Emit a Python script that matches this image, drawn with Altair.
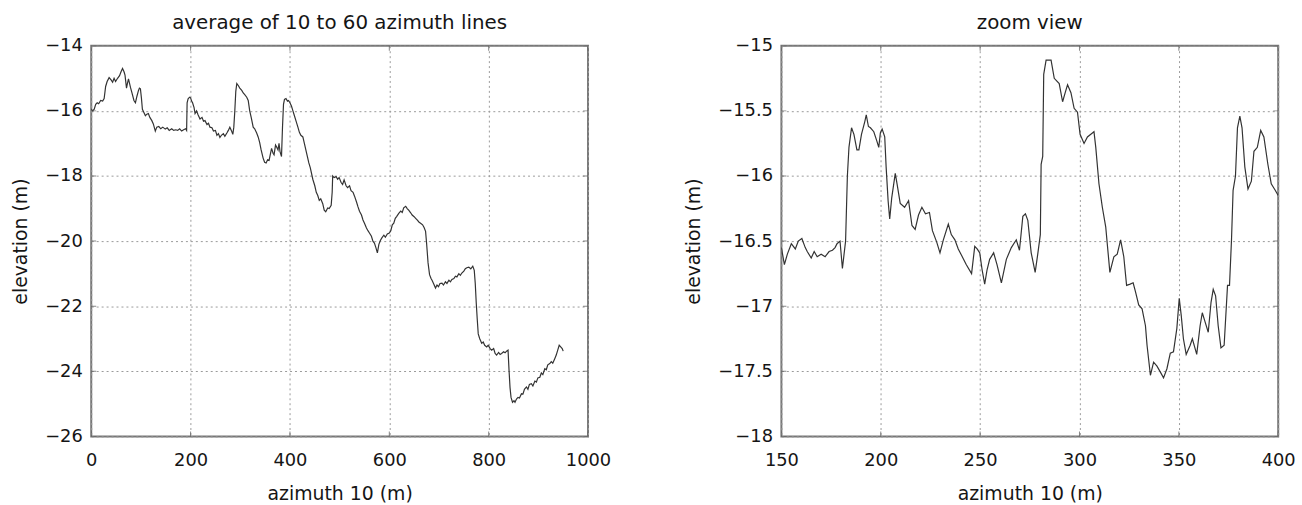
import altair as alt
import pandas as pd

# ---- full profile (left panel) ----
full_x = [0, 3, 6, 9, 12, 15, 19, 23, 26, 29, 32, 36, 40, 43, 46, 49, 53, 57, 60, 63, 66, 68, 71, 73, 75, 77, 79, 82, 86, 89,
          92, 95, 97, 99, 101, 103, 106, 109, 112, 115, 118, 122, 125, 129, 132, 136, 140, 144, 149, 153, 157, 162, 166, 170, 174, 178, 182, 186, 190, 192,
          193, 195, 198, 200, 202, 204, 207, 209, 212, 215, 219, 223, 226, 229, 233, 236, 239, 243, 246, 250, 253, 256, 259, 262, 266, 269, 273, 276, 279, 282,
          285, 287, 289, 291, 293, 296, 299, 303, 306, 309, 313, 316, 319, 322, 326, 329, 333, 336, 339, 342, 346, 349, 352, 355, 358, 361, 363, 366, 368, 371,
          373, 376, 378, 380, 383, 385, 387, 389, 392, 395, 397, 400, 403, 406, 409, 412, 416, 419, 422, 426, 429, 432, 435, 438, 441, 446, 450, 453, 456, 459,
          462, 466, 469, 472, 476, 479, 483, 485, 486, 489, 493, 496, 499, 503, 506, 509, 513, 516, 520, 523, 527, 530, 534, 537, 540, 544, 547, 550, 554, 557,
          560, 564, 567, 570, 573, 576, 579, 582, 585, 589, 592, 596, 600, 603, 606, 609, 612, 615, 619, 623, 626, 629, 633, 636, 639, 643, 646, 650, 653, 656,
          660, 663, 667, 670, 673, 675, 678, 681, 684, 686, 689, 693, 696, 699, 702, 706, 709, 713, 716, 720, 723, 726, 730, 733, 736, 740, 743, 746, 750, 753,
          756, 760, 764, 768, 771, 773, 775, 777, 779, 782, 786, 789, 792, 796, 799, 803, 806, 810, 813, 816, 820, 823, 826, 830, 833, 836, 839, 841, 843, 845,
          848, 851, 853, 856, 859, 862, 866, 869, 872, 876, 879, 882, 886, 889, 893, 896, 899, 903, 906, 909, 913, 916, 919, 923, 926, 929, 933, 936, 939, 942,
          945, 948, 950]
full_y = [-15.95, -16.0, -15.95, -15.8, -15.75, -15.78, -15.68, -15.7, -15.62, -15.25, -15.1, -14.98, -15.05, -15.12, -15.0, -15.1, -15.0, -14.92, -14.8, -14.7,
          -14.8, -14.9, -15.3, -15.15, -15.02, -15.15, -15.28, -15.45, -15.68, -15.75,
          -15.55, -15.38, -15.3, -15.32, -15.6, -15.95, -16.05, -16.15, -16.1, -16.08, -16.2, -16.3, -16.4, -16.62, -16.5, -16.48, -16.55, -16.5, -16.56, -16.52,
          -16.6, -16.55, -16.6, -16.58, -16.6, -16.55, -16.62, -16.58, -16.55, -16.6,
          -15.75, -15.63, -15.58, -15.6, -15.7, -15.75, -15.9, -16.08, -16.0, -16.12, -16.25, -16.2, -16.32, -16.3, -16.42, -16.38, -16.5, -16.52, -16.62, -16.6,
          -16.75, -16.7, -16.82, -16.75, -16.7, -16.78, -16.68, -16.6, -16.5, -16.6,
          -16.72, -16.5, -16.0, -15.4, -15.16, -15.22, -15.3, -15.37, -15.45, -15.5, -15.58, -15.68, -16.0, -16.2, -16.5, -16.55, -16.68, -16.8, -16.97, -17.2,
          -17.45, -17.58, -17.6, -17.5, -17.52, -17.3, -17.15, -17.3, -17.35, -17.05,
          -17.1, -17.2, -17.0, -17.25, -17.4, -16.5, -15.8, -15.65, -15.62, -15.7, -15.68, -15.75, -15.85, -16.0, -16.15, -16.3, -16.5, -16.66, -16.75, -16.8,
          -17.0, -17.2, -17.4, -17.6, -17.75, -18.1, -18.3, -18.5, -18.6, -18.75,
          -18.7, -18.85, -19.05, -19.1, -18.98, -19.0, -18.9, -18.5, -18.0, -18.05, -18.02, -18.1, -18.05, -18.2, -18.26, -18.12, -18.3, -18.36, -18.3, -18.45,
          -18.5, -18.62, -18.8, -18.95, -19.08, -19.2, -19.35, -19.45, -19.6, -19.68,
          -19.75, -19.85, -20.0, -20.06, -20.2, -20.36, -20.1, -19.98, -19.9, -19.82, -19.88, -19.78, -19.75, -19.68, -19.5, -19.45, -19.3, -19.24, -19.15, -19.08,
          -19.12, -18.98, -18.93, -19.0, -19.05, -19.13, -19.2, -19.25, -19.3, -19.35,
          -19.42, -19.45, -19.5, -19.58, -19.7, -20.06, -20.67, -21.03, -21.15, -21.2, -21.3, -21.44, -21.35, -21.4, -21.3, -21.29, -21.35, -21.25, -21.3, -21.2,
          -21.25, -21.18, -21.15, -21.08, -21.1, -21.0, -21.05, -20.98, -20.92, -20.85,
          -20.82, -20.8, -20.85, -20.77, -20.9, -21.3, -21.9, -22.4, -22.85, -23.0, -23.14, -23.1, -23.2, -23.25, -23.2, -23.3, -23.35, -23.3, -23.45, -23.5,
          -23.42, -23.48, -23.45, -23.4, -23.43, -23.38, -23.35, -23.97, -24.5, -24.8,
          -24.95, -24.9, -24.95, -24.85, -24.8, -24.82, -24.69, -24.7, -24.55, -24.48, -24.55, -24.4, -24.38, -24.45, -24.3, -24.33, -24.2, -24.18, -24.05, -24.1,
          -23.92, -23.95, -23.8, -23.76, -23.7, -23.75, -23.61, -23.5, -23.35, -23.2,
          -23.25, -23.3, -23.38]

# ---- zoom view (right panel) ----
zoom_x = [150, 151.5, 153, 155, 157, 158.5, 160.3, 162, 163, 165, 166.5, 168, 170, 172, 174, 175.7, 177, 178, 179.5, 180.7,
          182.3, 183.2, 184, 185.3, 186.5, 188, 189, 190.3, 192, 192.7, 193.8, 194.8, 196.5, 198, 199, 199.8, 200.7, 202, 202.7, 203.7,
          204.5, 205.5, 207.3, 208.2, 209.8, 212, 214, 215.7, 217.3, 219, 220.7, 222.5, 224.5, 226, 228.2, 229.8, 231.5, 234, 235.5, 237.3,
          239, 240.7, 243, 245.7, 247.3, 248.5, 249.8, 251, 252.3, 253.5, 254.8, 256.8, 258.5, 260.7, 263.2, 265.7, 268.2, 269.8, 271.5, 272.8,
          274, 275.7, 277.7, 279, 280.3, 280.7, 281.5, 282, 283.2, 285.7, 287.3, 289.8, 291.5, 293, 294, 295.7, 297.3, 299, 300.3, 302.3,
          304, 306.5, 307.3, 308.2, 309.8, 311.5, 313.2, 315.3, 316.3, 317.3, 319, 320.7, 322.3, 323.7, 325.5, 327, 328.2, 329.8, 331.5, 333.2,
          334, 335.7, 337.3, 339, 340.5, 342.3, 344, 345.7, 347.3, 349, 350.2, 351.2, 352.3, 353.7, 355.7, 356.8, 359, 360.7, 361.8, 363.2,
          364.8, 366.2, 367.3, 368.5, 369.8, 371.2, 372.8, 374.5, 375.5, 376.5, 377.3, 378.5, 379.5, 380.7, 381.8, 383.2, 384.8, 386.5, 387.8, 389.5,
          391.2, 392.8, 394.8, 396.5, 398.5, 400]
zoom_y = [-16.55, -16.68, -16.6, -16.52, -16.56, -16.5, -16.48, -16.55, -16.58, -16.63, -16.58, -16.62, -16.6, -16.62, -16.58, -16.57, -16.55, -16.52, -16.5, -16.71,
          -16.5, -16.0, -15.78, -15.63, -15.68, -15.8, -15.8, -15.68, -15.58, -15.53, -15.62, -15.63, -15.66, -15.73, -15.78, -15.67, -15.64, -15.7, -15.93, -16.19,
          -16.33, -16.17, -15.98, -16.06, -16.21, -16.24, -16.19, -16.38, -16.41, -16.3, -16.24, -16.29, -16.28, -16.42, -16.51, -16.59, -16.49, -16.37, -16.45, -16.49,
          -16.56, -16.61, -16.68, -16.75, -16.54, -16.56, -16.59, -16.72, -16.83, -16.72, -16.64, -16.59, -16.68, -16.82, -16.64, -16.55, -16.49, -16.57, -16.31, -16.29,
          -16.34, -16.59, -16.74, -16.6, -16.45, -15.91, -15.85, -15.22, -15.11, -15.11, -15.25, -15.29, -15.43, -15.35, -15.3, -15.36, -15.48, -15.51, -15.68, -15.75,
          -15.7, -15.67, -15.66, -15.78, -16.06, -16.24, -16.39, -16.74, -16.68, -16.62, -16.6, -16.49, -16.62, -16.84, -16.83, -16.82, -16.89, -16.99, -17.02, -17.15,
          -17.3, -17.53, -17.43, -17.46, -17.5, -17.55, -17.48, -17.36, -17.35, -17.17, -16.94, -17.07, -17.25, -17.37, -17.3, -17.25, -17.37, -17.15, -17.05, -17.12,
          -17.2, -16.97, -16.87, -16.92, -17.15, -17.32, -17.3, -16.84, -16.84, -16.49, -16.11, -16.0, -15.63, -15.54, -15.63, -15.93, -16.1, -16.04, -15.81, -15.78,
          -15.65, -15.7, -15.91, -16.06, -16.11, -16.15]

left_xticks = [0, 200, 400, 600, 800, 1000]
left_yticks = [-26, -24, -22, -20, -18, -16, -14]
right_xticks = [150, 200, 250, 300, 350, 400]
right_yticks = [-18, -17.5, -17, -16.5, -16, -15.5, -15]

FONT = "DejaVu Sans"
TXT = "#151515"
W, H = 501, 394


def panel(df, xdom, ydom, xt, yt, title):
    common = dict(grid=True, gridColor="#9a9a9a", gridDash=[2, 3], gridWidth=1,
                  domain=False, ticks=False, labelFont=FONT, labelFontSize=18,
                  labelColor=TXT, titleFont=FONT, titleFontSize=19,
                  titleFontWeight="normal", titleColor=TXT, labelFlush=False,
                  labelOverlap=False, format="~r")
    xs = alt.Scale(domain=xdom, nice=False, zero=False)
    ys = alt.Scale(domain=ydom, nice=False, zero=False)
    xax = alt.Axis(values=xt, title="azimuth 10 (m)", labelPadding=15,
                   titlePadding=16, **common)
    yax = alt.Axis(values=yt, title="elevation (m)", labelPadding=9,
                   titlePadding=14, **common)
    line = alt.Chart(df).mark_line(color="#333333", strokeWidth=1.2, clip=True).encode(
        x=alt.X("x:Q", scale=xs, axis=xax),
        y=alt.Y("y:Q", scale=ys, axis=yax),
    )
    xt_df = pd.DataFrame({"x": xt})
    yt_df = pd.DataFrame({"y": yt})
    tick_style = dict(color="#555555", size=10, thickness=1, clip=True)
    xticks_b = alt.Chart(xt_df).mark_tick(**tick_style).encode(
        x=alt.X("x:Q", scale=xs, axis=xax), y=alt.value(H))
    xticks_t = alt.Chart(xt_df).mark_tick(**tick_style).encode(
        x=alt.X("x:Q", scale=xs, axis=xax), y=alt.value(0))
    yticks_l = alt.Chart(yt_df).mark_tick(**tick_style).encode(
        y=alt.Y("y:Q", scale=ys, axis=yax), x=alt.value(0))
    yticks_r = alt.Chart(yt_df).mark_tick(**tick_style).encode(
        y=alt.Y("y:Q", scale=ys, axis=yax), x=alt.value(W))
    return alt.layer(line, xticks_b, xticks_t, yticks_l, yticks_r).properties(
        width=W, height=H,
        title=alt.TitleParams(title, font=FONT, fontSize=20, fontWeight="normal",
                              offset=4, color=TXT),
    )


full_df = pd.DataFrame({"x": full_x, "y": full_y})
zoom_df = pd.DataFrame({"x": zoom_x, "y": zoom_y})

left = panel(full_df, [0, 1000], [-26, -14], left_xticks, left_yticks,
             "average of 10 to 60 azimuth lines")
right = panel(zoom_df, [150, 400], [-18, -15], right_xticks, right_yticks, "zoom view")

chart = alt.hconcat(left, right, spacing=72).properties(
    padding={"left": 11, "top": 10, "right": 5, "bottom": 0},
    background="white",
).configure_view(stroke="#777777", strokeWidth=2)

chart.save("out.html", embed_options={"renderer": "svg", "actions": False})
